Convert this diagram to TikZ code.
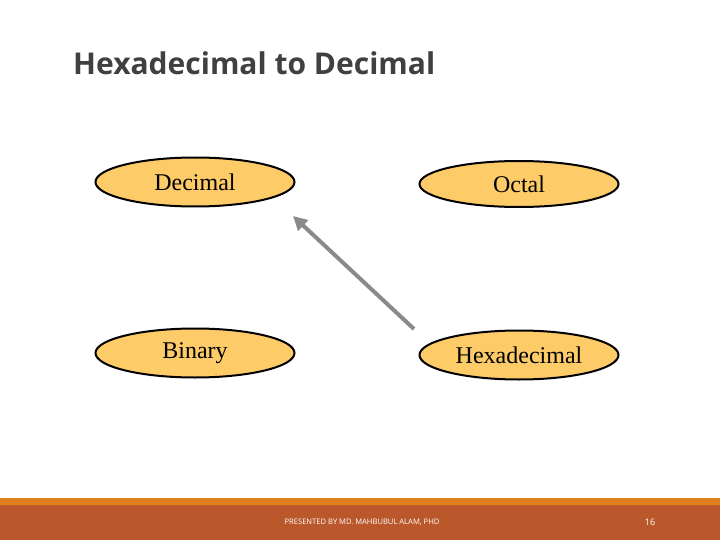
\documentclass[tikz,border=0pt]{standalone}
\usepackage{fontspec}
\setmainfont{Liberation Serif}
\newfontfamily\titlefont{Open Sans}
\usetikzlibrary{shapes.geometric,arrows.meta}
\definecolor{bandorange}{HTML}{E07F1C}
\definecolor{bandbrown}{HTML}{BA582C}
\definecolor{ellfill}{HTML}{FDCB68}
\definecolor{titlegray}{HTML}{404040}
\definecolor{arrowgray}{HTML}{8A8A8A}
\tikzset{
  numsys/.style={ellipse, draw=black, line width=2pt, fill=ellfill,
    minimum width=199pt, minimum height=49pt, inner sep=0pt,
    font=\fontsize{24}{26}\selectfont},
  convarrow/.style={draw=arrowgray, line width=4pt,
    -{Triangle[length=14pt,width=14pt]}}
}
\begin{document}
\begin{tikzpicture}[x=1pt,y=-1pt]
\useasboundingbox (0,0) rectangle (720,540);
\fill[white] (0,0) rectangle (720,540);
% footer
\fill[bandorange] (0,498) rectangle (720,506);
\fill[bandbrown] (0,505) rectangle (720,540);
\node[anchor=base west, text=titlegray, inner sep=0pt,
  font=\titlefont\bfseries\fontsize{30}{34}\selectfont] (title) at (73,75) {Hexadecimal to Decimal};
\node[numsys] (dec) at (195,182) {Decimal};
\node[numsys, minimum height=46pt] (oct) at (519,184) {Octal};
\node[numsys] (bin) at (195,353) {Binary};
\node[numsys] (hex) at (519,355) {Hexadecimal};
\coordinate (a1) at (414,329);
\coordinate (a2) at (293,216);
\draw[convarrow] (a1) -- (a2);
\node[text=white, inner sep=0pt, font=\titlefont\fontsize{7.6}{9}\selectfont] (pres) at (362,522) {PRESENTED BY MD. MAHBUBUL ALAM, PHD};
\node[text=white, inner sep=0pt, font=\titlefont\fontsize{9}{10}\selectfont] (pg) at (650,522) {16};
\end{tikzpicture}
\end{document}
